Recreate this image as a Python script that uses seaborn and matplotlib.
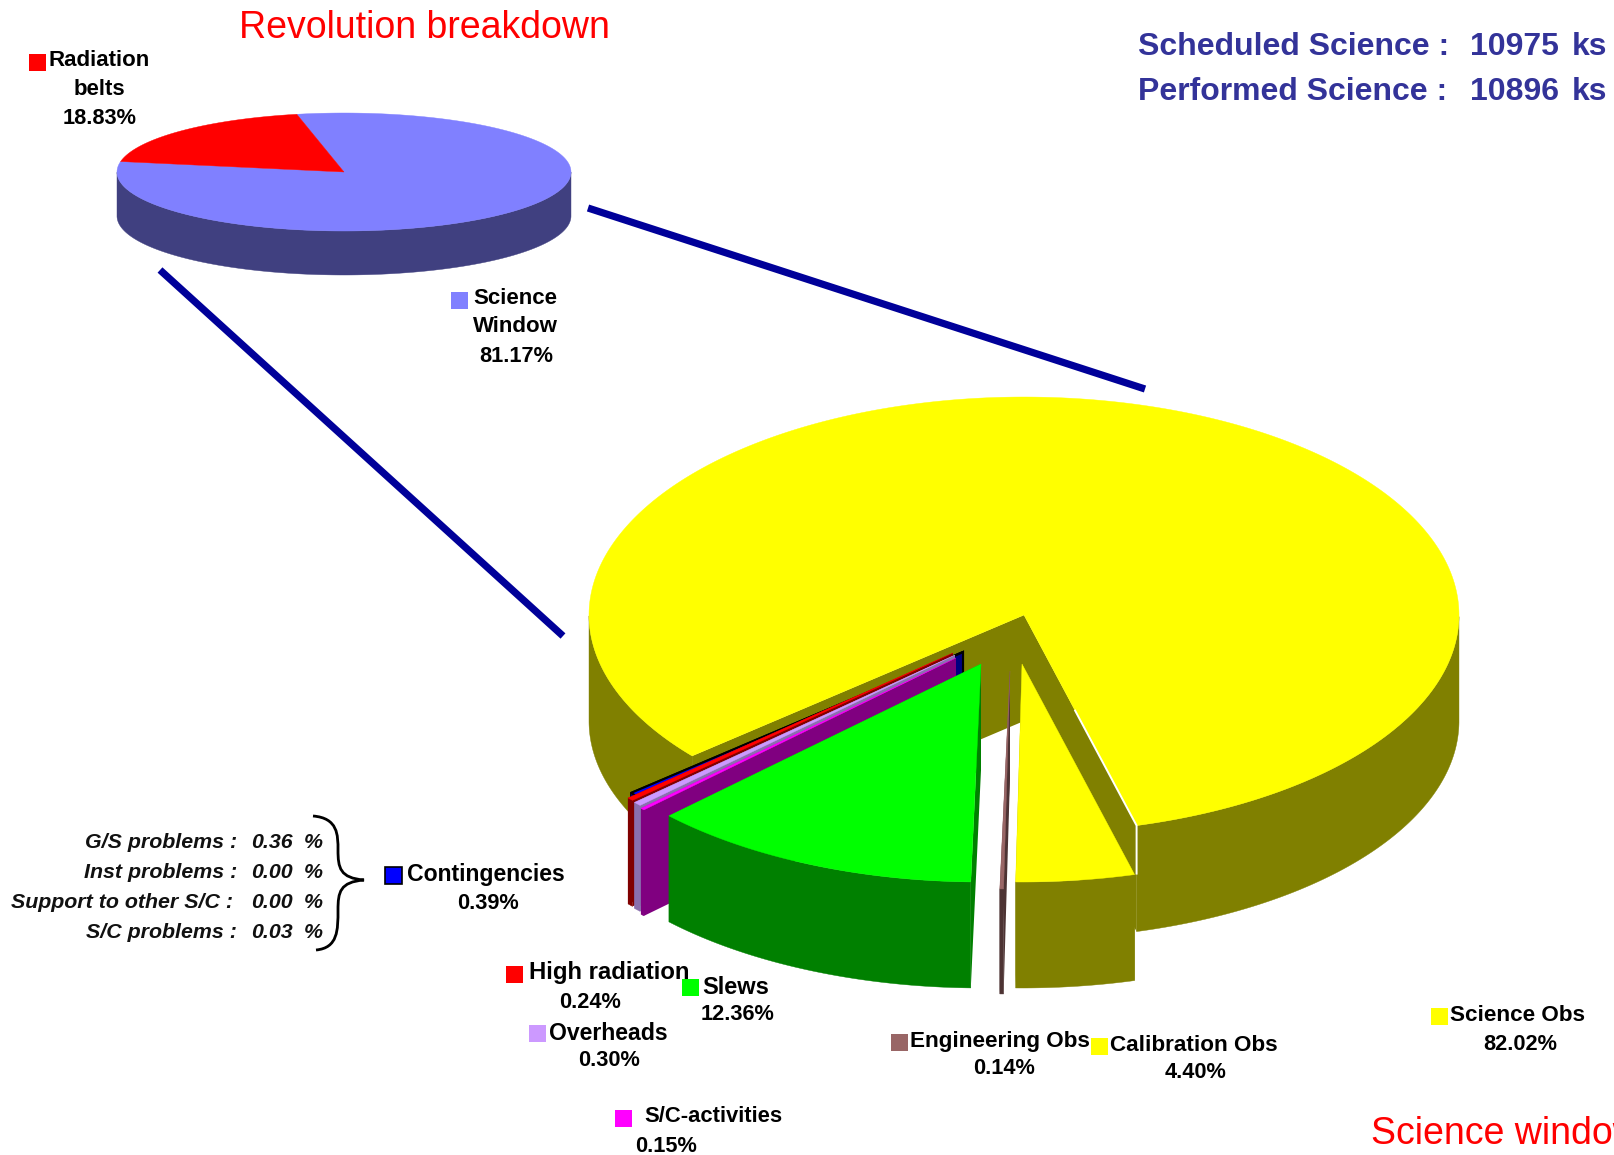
import numpy as np
import matplotlib
matplotlib.use("Agg")
import matplotlib.pyplot as plt
from matplotlib.patches import Polygon, Rectangle, PathPatch
from matplotlib.path import Path
import seaborn as sns

sns.set_theme(style="white")
plt.rcParams['font.family'] = ['Liberation Sans', 'DejaVu Sans']

# ---- data ----
rev_labels = ["Radiation\nbelts", "Science\nWindow"]
rev_values = [18.83, 81.17]

sci_labels = ["Science Obs", "Calibration Obs", "Engineering Obs", "Slews",
              "S/C-activities", "Overheads", "High radiation", "Contingencies"]
sci_values = [82.02, 4.40, 0.14, 12.36, 0.15, 0.30, 0.24, 0.39]

problem_labels = ["G/S problems :", "Inst problems :", "Support to other S/C :", "S/C problems :"]
problem_values = [0.36, 0.00, 0.00, 0.03]

scheduled_ks = 10975
performed_ks = 10896

# ---- styles ----
rev_tops = sns.color_palette(["#FF0000", "#8080FF"])
rev_walls = sns.color_palette(["#800000", "#404080"])
sci_tops = sns.color_palette(["#FFFF00", "#FFFF00", "#996666", "#00FF00",
                              "#FF00FF", "#CC99FF", "#FF0000", "#0000FF"])
sci_walls = sns.color_palette(["#808000", "#808000", "#4D3333", "#008000",
                               "#800080", "#8A70AE", "#800000", "#000080"])
sci_offsets = [(0, 0), (-2, 49), (-14, 56), (-43, 49), (-68, 43), (-69, 40), (-71, 38), (-61, 37)]
name_sizes = [16.2, 16.2, 16.2, 17.0, 15.8, 16.6, 17.2, 16.6]


def pt(geo, t, off=(0, 0)):
    cx, cy, rx, ry = geo
    t = np.radians(t)
    return cx + off[0] + rx * np.cos(t), cy + off[1] - ry * np.sin(t)


def draw_slice(ax, geo, depth, t0, t1, top, wall, off=(0, 0), edge=None, faces=True):
    lo, hi = min(t0, t1), max(t0, t1)
    ts = np.linspace(lo, hi, max(int((hi - lo) * 2), 2) + 1)
    xs, ys = pt(geo, ts, off)
    ax_, ay_ = geo[0] + off[0], geo[1] + off[1]
    lw = 1.5 if edge else 0
    ec = edge if edge else 'none'
    # cut faces
    if faces:
        for t in (hi, lo):
            ex, ey = pt(geo, t, off)
            ax.add_patch(Polygon([(ax_, ay_), (ex, ey), (ex, ey + depth), (ax_, ay_ + depth)],
                                 closed=True, fc=wall, ec=ec, lw=lw))
    # outer wall (front half only)
    vis = np.sin(np.radians(ts)) <= 0
    idx = np.where(vis)[0]
    if len(idx) > 1:
        for run in np.split(idx, np.where(np.diff(idx) > 1)[0] + 1):
            if len(run) > 1:
                rx_, ry_ = xs[run], ys[run]
                verts = list(zip(rx_, ry_)) + list(zip(rx_[::-1], ry_[::-1] + depth))
                ax.add_patch(Polygon(verts, closed=True, fc=wall, ec=wall, lw=0.3))
    # top
    verts = [(ax_, ay_)] + list(zip(xs, ys))
    ax.add_patch(Polygon(verts, closed=True, fc=top, ec=edge if edge else top, lw=lw if edge else 0.3))


W, H = 1614, 1155
fig = plt.figure(figsize=(W / 100, H / 100), dpi=100, facecolor="white")
ax = fig.add_axes([0, 0, 1, 1])
ax.set_xlim(0, W)
ax.set_ylim(H, 0)
ax.axis("off")

# connectors
line_col = "#000099"
ax.plot([588, 1145], [208, 389], color=line_col, lw=5.2, solid_capstyle="butt")
ax.plot([160, 563], [270, 636], color=line_col, lw=5.2, solid_capstyle="butt")

# upper pie
geo_rev = (344, 172, 227, 59)
start = 102.0
sweep0 = 360 * rev_values[0] / sum(rev_values)
draw_slice(ax, geo_rev, 44, start + sweep0, start + 360, rev_tops[1], rev_walls[1], faces=False)
draw_slice(ax, geo_rev, 44, start, start + sweep0, rev_tops[0], rev_walls[0], faces=False)

# lower pie
geo_sci = (1024, 615, 435, 218)
depth = 106
base = -75.0
total = sum(sci_values)
main_sweep = 360 * sci_values[0] / total
ang = base
bounds = []
for v in sci_values[1:]:
    nxt = ang - 360 * v / total
    bounds.append((nxt, ang))
    ang = nxt

draw_slice(ax, geo_sci, depth, base, base + main_sweep, sci_tops[0], sci_walls[0])
# white seam along the cut of the main slice
ex, ey = pt(geo_sci, base)
ax.plot([geo_sci[0] + 0.45 * (ex - geo_sci[0]), ex, ex],
        [geo_sci[1] + 0.45 * (ey - geo_sci[1]), ey, ey + 49],
        color="white", lw=1.4, solid_capstyle="butt")

order = [7, 6, 5, 4, 3, 2, 1]
for i in order:
    lo, hi = bounds[i - 1]
    edge = "black" if i == 7 else None
    draw_slice(ax, geo_sci, depth if i != 2 else depth - 1, lo, hi, sci_tops[i], sci_walls[i],
               off=sci_offsets[i], edge=edge)

# text
ax.text(424, 28, "Revolution breakdown", color="#FF0000", fontsize=27, ha="center", va="center")
ax.text(1371, 1134, "Science window", color="#FF0000", fontsize=27, ha="left", va="center", clip_on=True)
for y, name, val in [(47, "Scheduled Science :", scheduled_ks), (92, "Performed Science :", performed_ks)]:
    ax.text(1138, y, name, color="#333399", fontsize=23, fontweight="bold", ha="left", va="center")
    ax.text(1470, y, str(val), color="#333399", fontsize=23, fontweight="bold", ha="left", va="center")
    ax.text(1572, y, "ks", color="#333399", fontsize=23, fontweight="bold", ha="left", va="center")

val_fs = 15.7


def label(name, value, color, sq, name_xy, val_xy, dy=28.5, edge=None, fs=16.0):
    ax.add_patch(Rectangle((sq[0] - 8.5, sq[1] - 8.5), 17, 17, fc=color,
                           ec=edge if edge else color, lw=1.2 if edge else 0))
    lines = name.split("\n")
    for k, s in enumerate(lines):
        ax.text(name_xy[0], name_xy[1] + k * dy, s, fontsize=fs, fontweight="bold",
                ha="center", va="center", color="black")
    ax.text(val_xy[0], val_xy[1], f"{value:.2f}%", fontsize=val_fs, fontweight="bold",
            ha="center", va="center", color="black")


label(rev_labels[0], rev_values[0], rev_tops[0], (37, 62), (99, 61), (100, 118))
label(rev_labels[1], rev_values[1], rev_tops[1], (459, 300), (515, 298), (516, 356))

sci_pos = [
    ((1439, 1016), (1518, 1015.5), (1520, 1044)),
    ((1099, 1046), (1194, 1045.5), (1196, 1073)),
    ((899, 1042), (1000, 1041.5), (1004, 1069)),
    ((690, 987), (736, 987), (738, 1015)),
    ((623, 1118), (713, 1117), (666, 1146)),
    ((537, 1033), (608, 1033), (609, 1061)),
    ((514, 974), (609, 973), (590, 1002)),
    ((393, 875), (486, 875), (488, 903.5)),
]
for i, (n, v) in enumerate(zip(sci_labels, sci_values)):
    sq, nm, vl = sci_pos[i]
    label(n, v, sci_tops[i], sq, nm, vl, edge="black" if i == 7 else None, fs=name_sizes[i])

# contingency breakdown
ys = [843, 872, 902, 933]
for lab, v, y in zip(problem_labels, problem_values, ys):
    xr = 233 if lab.startswith("Support") else 237
    ax.text(xr, y, lab, fontsize=15.4, fontweight="bold", fontstyle="italic", ha="right", va="center", color="#111111")
    ax.text(293, y, f"{v:.2f}", fontsize=15.4, fontweight="bold", fontstyle="italic", ha="right", va="center", color="#111111")
    ax.text(323, y, "%", fontsize=15.4, fontweight="bold", fontstyle="italic", ha="right", va="center", color="#111111")

C4, M = Path.CURVE4, Path.MOVETO
verts = [(313, 816), (338, 818), (338, 835), (338, 850),
         (338, 868), (340, 878), (364, 880),
         (340, 882), (338, 892), (338, 910),
         (338, 930), (338, 948), (316, 950)]
codes = [M] + [C4] * 12
ax.add_patch(PathPatch(Path(verts, codes), fc="none", ec="black", lw=2))

fig.savefig("out.png", dpi=100, facecolor="white")
